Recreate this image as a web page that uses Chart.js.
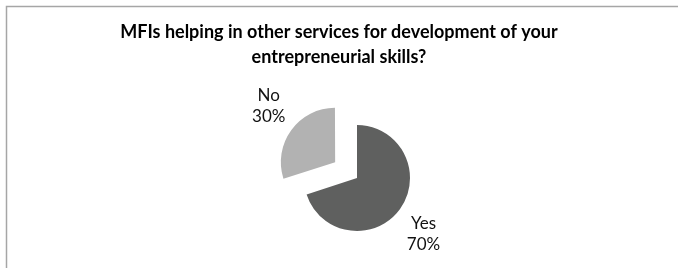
<!DOCTYPE html>
<html lang="en">
<head>
    <meta charset="UTF-8">
    <title>MFIs helping in other services</title>
    <script src="https://cdn.jsdelivr.net/npm/chart.js"></script>
    <style>
        html, body { margin: 0; padding: 0; background: #fff; }
        #chart-container { width: 678px; height: 268px; position: relative; }
    </style>
</head>
<body>
    <div id="chart-container">
        <canvas id="pieChart"></canvas>
    </div>

    <script>
        const categories = ['Yes', 'No'];
        const percentages = [70, 30];
        const sliceColors = ['#5f605f', '#b2b2b2'];
        const titleLines = ['MFIs helping in other services for development of your', 'entrepreneurial skills?'];

        const FONT = 'Lato, "Open Sans", sans-serif';
        const EXPLODE = 27; // px the "No" slice is pulled out

        // frame lines + title drawn by hand so the title stays centred on the page
        const framePlugin = {
            id: 'frame',
            beforeDraw(chart) {
                const { ctx, width, height } = chart;
                ctx.save();
                ctx.strokeStyle = '#a6a6a6';
                ctx.lineWidth = 1.5;
                ctx.beginPath();
                ctx.moveTo(width, 6.5);
                ctx.lineTo(6.5, 6.5);
                ctx.lineTo(6.5, height);
                ctx.stroke();

                ctx.fillStyle = '#000';
                ctx.font = 'bold 18px ' + FONT;
                ctx.textAlign = 'center';
                ctx.textBaseline = 'middle';
                titleLines.forEach((line, i) => {
                    ctx.fillText(line, 339, 32 + i * 25);
                });
                ctx.restore();
            }
        };

        // category + percent labels outside each slice
        const labelPlugin = {
            id: 'sliceLabels',
            afterDatasetsDraw(chart) {
                const { ctx } = chart;
                const meta = chart.getDatasetMeta(0);
                const offsets = chart.data.datasets[0].offset;
                ctx.save();
                ctx.fillStyle = '#111';
                ctx.font = '17px ' + FONT;
                ctx.textAlign = 'center';
                ctx.textBaseline = 'middle';
                meta.data.forEach((arc, i) => {
                    const p = arc.getProps(['x', 'y', 'startAngle', 'endAngle', 'outerRadius'], true);
                    const mid = (p.startAngle + p.endAngle) / 2;
                    const shift = (offsets[i] || 0) / 4;
                    const dist = p.outerRadius * 1.55 + shift;
                    const cx = p.x + Math.cos(mid) * dist;
                    const cy = p.y + Math.sin(mid) * dist + Math.sign(Math.sin(mid)) * 8;
                    ctx.fillText(categories[i], cx, cy - 10.5);
                    ctx.fillText(percentages[i] + '%', cx, cy + 10.5);
                });
                ctx.restore();
            }
        };

        new Chart(document.getElementById('pieChart'), {
            type: 'pie',
            data: {
                labels: categories,
                datasets: [{
                    data: percentages,
                    backgroundColor: sliceColors,
                    borderWidth: 0,
                    // arc offset is applied at 1/4 in Chart.js v4
                    offset: [0, EXPLODE * 4]
                }]
            },
            options: {
                responsive: true,
                maintainAspectRatio: false,
                animation: false,
                radius: 53,
                layout: { padding: { left: 36, right: 0, top: 88, bottom: 0 } },
                plugins: {
                    legend: { display: false },
                    title: { display: false },
                    tooltip: { enabled: false }
                }
            },
            plugins: [framePlugin, labelPlugin]
        });
    </script>
</body>
</html>
